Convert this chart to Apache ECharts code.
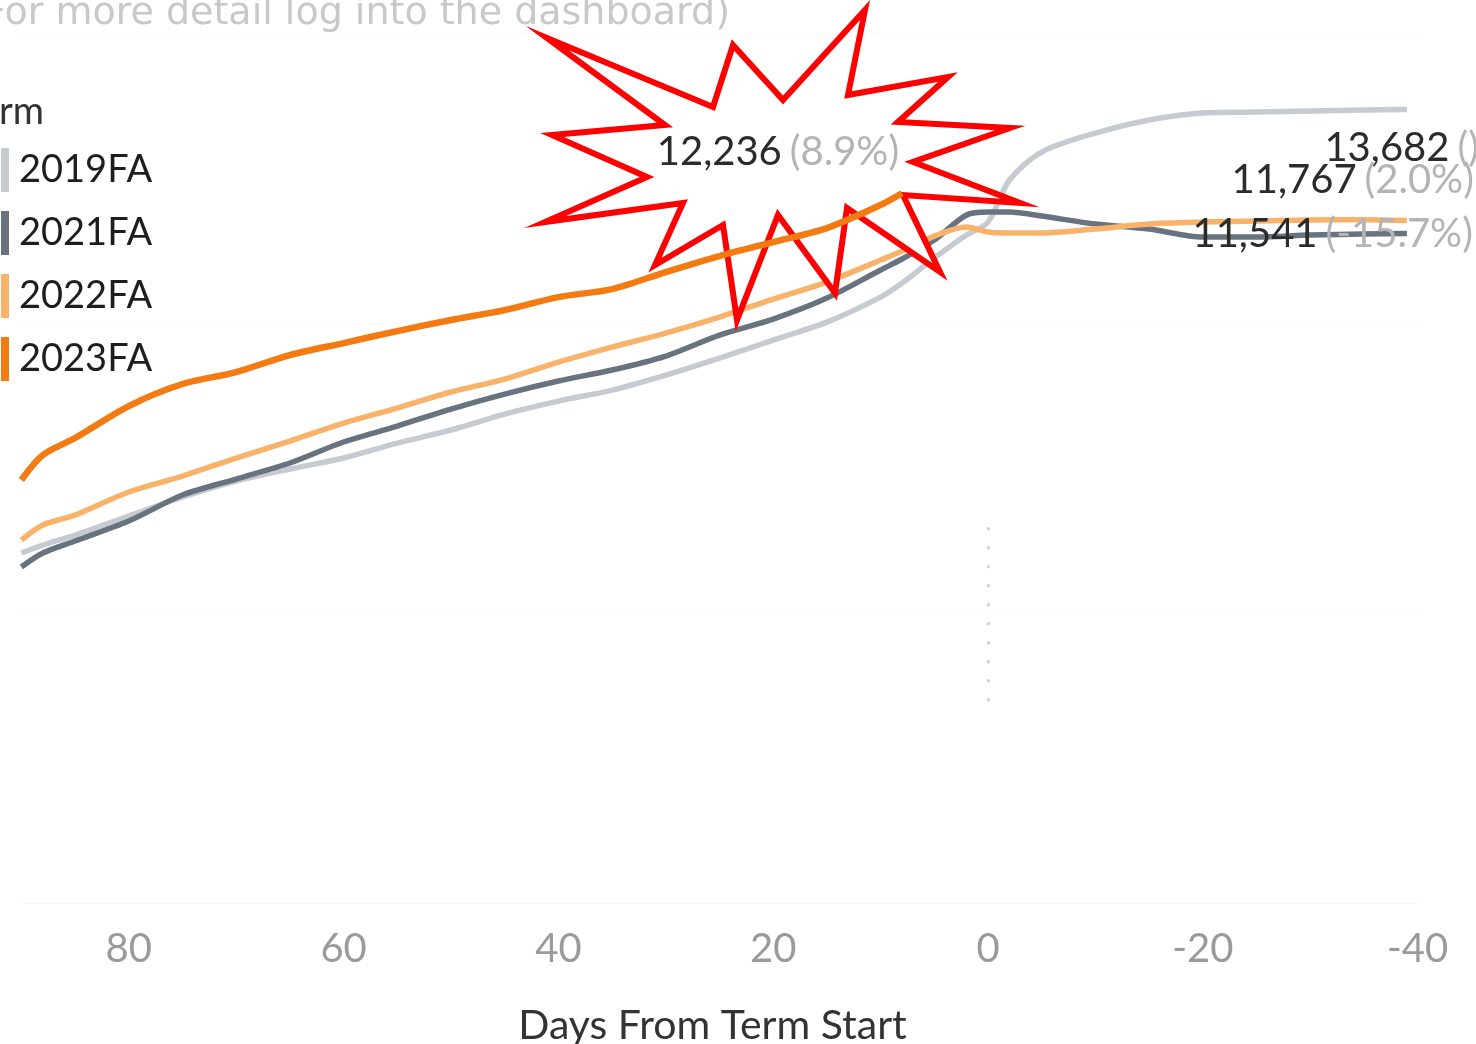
<!DOCTYPE html>
<html>
<head>
<meta charset="utf-8">
<title>Days From Term Start</title>
<script src="https://cdn.jsdelivr.net/npm/echarts@6.0.0/dist/echarts.min.js"></script>
<style>
  html, body { margin: 0; padding: 0; background: #fff; }
  #chart { width: 1476px; height: 1044px; }
</style>
</head>
<body>
<div id="chart"></div>
<script>
// days before term start (positive = before)
const days = [90, 88, 85, 80, 75, 70, 65, 60, 55, 50, 45, 40, 35, 30, 25, 20, 15, 10, 8, 5, 2, 0, -2, -5, -10, -15, -20, -25, -30, -35, -39];
const terms = ["2019FA", "2021FA", "2022FA", "2023FA"];

const fa2019 = [6034, 6172, 6344, 6672, 6999, 7275, 7482, 7672, 7930, 8155, 8430, 8654, 8844, 9103, 9396, 9706, 10016, 10447, 10689, 11120, 11516, 11740, 12465, 12947, 13275, 13499, 13620, 13637, 13654, 13671, 13682];
const fa2021 = [5793, 6034, 6241, 6586, 7034, 7310, 7586, 7948, 8223, 8517, 8775, 9000, 9189, 9430, 9792, 10068, 10430, 10913, 11103, 11430, 11861, 11913, 11913, 11844, 11706, 11620, 11482, 11482, 11516, 11534, 11541];
const fa2022 = [6258, 6517, 6689, 7086, 7361, 7672, 7965, 8275, 8534, 8810, 9034, 9327, 9585, 9827, 10103, 10413, 10706, 11085, 11240, 11499, 11654, 11568, 11551, 11551, 11620, 11706, 11740, 11760, 11775, 11780, 11767];
const fa2023 = [7293, 7724, 8017, 8568, 8948, 9154, 9448, 9654, 9861, 10051, 10223, 10447, 10585, 10878, 11154, 11396, 11637, 12034, 12236, null, null, null, null, null, null, null, null, null, null, null, null];

const endNums = ["13,682", "11,541", "11,767", "12,236"];
const endPcts = ["()", "(-15.7%)", "(2.0%)", "(8.9%)"];
const xTicks = [80, 60, 40, 20, 0, -20, -40];

const colors = ["#c6cad1", "#68737f", "#f9b26a", "#f47a12"];
const widths = [5.5, 5.5, 5.5, 6.5];
const labelOffsets = [[72, 39], [66, 0], [67, -40], [-3, -41]];

// starburst callout around the 2023 label
const starPts = [[547, 38], [713, 107], [733, 45], [783, 100], [865, 10], [848, 95], [948, 77], [898, 122],
  [1010, 128], [913, 162], [1020, 203], [903, 195], [940, 272], [847, 208], [835, 293], [778, 215],
  [737, 320], [723, 225], [655, 265], [683, 203], [545, 222], [647, 177], [552, 135], [665, 125]];

const chart = echarts.init(document.getElementById("chart"), null, { renderer: "canvas" });
const seriesVals = [fa2019, fa2021, fa2022, fa2023];

const series = terms.map((t, i) => ({
  name: t,
  type: "line",
  data: days.map((d, k) => [d, seriesVals[i][k]]),
  showSymbol: false,
  smooth: 0.3,
  connectNulls: false,
  z: i === 3 ? 6 : 2,
  lineStyle: { color: colors[i], width: widths[i] },
  itemStyle: { color: colors[i] },
  endLabel: {
    show: true,
    distance: 0,
    align: "right",
    verticalAlign: "middle",
    offset: labelOffsets[i],
    formatter: () => `{n|${endNums[i]}}{s| }{p|${endPcts[i]}}`,
    rich: {
      n: { fontSize: 40, color: "#2b2b2b", fontFamily: "Lato" },
      s: { fontSize: 40, width: 8 },
      p: { fontSize: 40, color: "#b4b4b4", fontFamily: "Lato" },
    },
  },
  markLine: i === 0 ? {
    silent: true,
    symbol: "none",
    label: { show: false },
    lineStyle: { type: [3, 16], color: "#d4d4d4", width: 3 },
    data: [[{ coord: [0, 6480] }, { coord: [0, 3210] }]],
  } : undefined,
  animation: false,
}));

const opt = {
  animation: false,
  textStyle: { fontFamily: "Lato" },
  grid: { left: 21.4, right: 58.4, top: 33, bottom: 141, outerBoundsMode: "none", containLabel: false },
  xAxis: {
    type: "value", min: -40, max: 90, interval: 20, inverse: true,
    axisLine: { show: false }, axisTick: { show: false }, splitLine: { show: false },
    axisLabel: {
      fontSize: 40, color: "#9a9a9a", margin: 26,
      formatter: (v) => (xTicks.includes(v) ? String(v) : ""),
    },
    name: "Days From Term Start", nameLocation: "middle", nameGap: 102,
    nameTextStyle: { fontSize: 41, color: "#333", padding: [0, 14, 0, 0] },
  },
  yAxis: {
    type: "value", min: 0, max: 15000, interval: 5000,
    axisLine: { show: false }, axisTick: { show: false }, axisLabel: { show: false },
    splitLine: { lineStyle: { color: "#f7f7f7", width: 1 } },
  },
  legend: {
    data: terms, orient: "vertical", left: -4, top: 143,
    icon: "rect", itemWidth: 8, itemHeight: 44, itemGap: 19,
    textStyle: { fontSize: 38, color: "#1e1e1e", padding: [0, 0, 0, 5] },
    selectedMode: false,
  },
  graphic: [
    { type: "text", x: 730, y: 14, z: 10,
      style: { text: "(For more detail log into the dashboard)", fill: "#c8c8c8", font: "38px 'DejaVu Sans'", textAlign: "right", textVerticalAlign: "middle" } },
    { type: "text", x: 44, y: 112, z: 10,
      style: { text: "Term", fill: "#333", font: "38px Lato", textAlign: "right", textVerticalAlign: "middle" } },
    { type: "polygon", z: 5,
      shape: { points: starPts },
      style: { fill: "#fff", stroke: "#ff0000", lineWidth: 6, lineJoin: "miter", miterLimit: 20 } },
  ],
  series,
};
chart.setOption(opt, true);
</script>
</body>
</html>
